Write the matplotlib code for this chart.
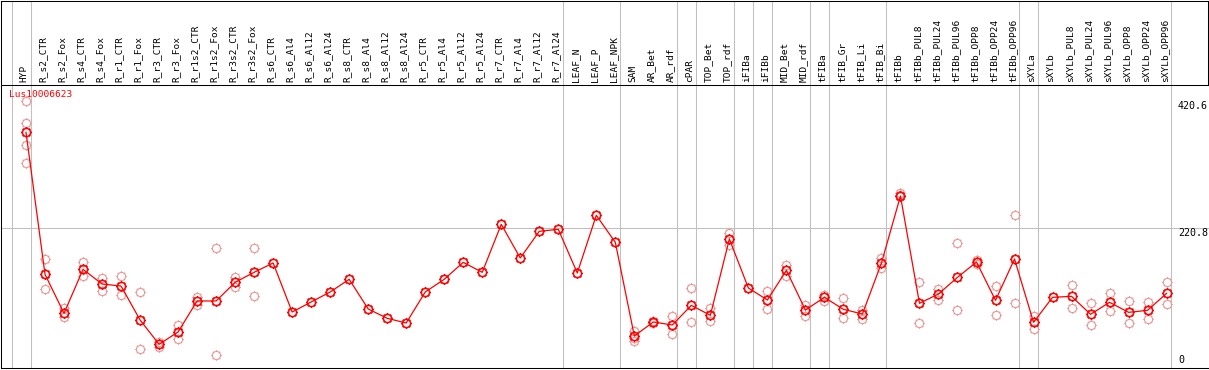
import numpy as np
import matplotlib
matplotlib.use('Agg')
import matplotlib.pyplot as plt
from matplotlib.path import Path

samples = ["HYP", "R_s2_CTR", "R_s2_Fox", "R_s4_CTR", "R_s4_Fox", "R_r1_CTR", "R_r1_Fox",
           "R_r3_CTR", "R_r3_Fox", "R_r1s2_CTR", "R_r1s2_Fox", "R_r3s2_CTR", "R_r3s2_Fox",
           "R_s6_CTR", "R_s6_Al4", "R_s6_Al12", "R_s6_Al24", "R_s8_CTR", "R_s8_Al4",
           "R_s8_Al12", "R_s8_Al24", "R_r5_CTR", "R_r5_Al4", "R_r5_Al12", "R_r5_Al24",
           "R_r7_CTR", "R_r7_Al4", "R_r7_Al12", "R_r7_Al24", "LEAF_N", "LEAF_P", "LEAF_NPK",
           "SAM", "AR_Bet", "AR_rdf", "cPAR", "TOP_Bet", "TOP_rdf", "iFIBa", "iFIBb",
           "MID_Bet", "MID_rdf", "tFIBa", "tFIB_Gr", "tFIB_Li", "tFIB_Bi", "tFIBb",
           "tFIBb_PUL8", "tFIBb_PUL24", "tFIBb_PUL96", "tFIBb_OPP8", "tFIBb_OPP24",
           "tFIBb_OPP96", "sXYLa", "sXYLb", "sXYLb_PUL8", "sXYLb_PUL24", "sXYLb_PUL96",
           "sXYLb_OPP8", "sXYLb_OPP24", "sXYLb_OPP96"]

means = [371, 147.4, 86, 155.3, 132.2, 129, 75.6, 37.3, 56.7, 105.5, 105.5, 134.8, 150.6,
         165.3, 88.1, 103.9, 119.6, 139.6, 92.9, 78.2, 70.8, 119.6, 139.6, 166.3, 150.6,
         226.1, 173.1, 215.1, 218.3, 149.5, 240.3, 197.8,
         50.4, 72.4, 67.7, 98.6, 82.9, 203, 125.9, 107, 153.7, 91.3, 111.2, 92.3, 85, 165.3,
         270.7, 101.8, 116.5, 142.7, 166.8, 106.5, 171.6,
         71.9, 111.2, 112.8, 84.5, 103.4, 87.6, 90.8, 117.5]

replicates = [
    [420.6, 385.6, 350.5, 322], [171, 123.8], [94, 80.8], [166.3, 144.8], [142.2, 120.7],
    [145.3, 114.9], [119.6, 29.9], [41.4, 33.6], [67.7, 45.1], [112.3, 99.2],
    [188.9, 19.9], [143.8, 127], [188.9, 113.3],
    [], [], [], [], [], [], [], [], [], [], [], [], [], [], [], [], [], [], [],
    [58.8, 46.7, 43.0], [73.5, 71.4], [81.3, 53], [125.4, 71.9], [93.9, 73.5],
    [212, 193.6], [], [121.2, 92.3], [162.6, 144.8], [99.2, 82.4], [115.4, 106],
    [109.7, 78.2], [91.3, 77.6], [172.6, 156.9],
    [275, 272], [134.8, 70.3], [124.3, 106.5], [196.2, 90.8], [170, 163.7],
    [128.5, 82.9], [240.3, 101.8],
    [81.8, 61.9], [], [130.1, 93.9], [101.8, 67.2], [117.5, 89.2], [104.9, 70.3],
    [103.4, 77.6], [134.8, 100.2]]

group_ends = [-1, 0, 28, 31, 34, 35, 37, 38, 39, 41, 42, 45, 52, 53, 60]
y_ticks = [420.6, 220.8, 0]
series_name = "Lus10006623"

W, H = 1209, 370
fig = plt.figure(figsize=(W / 100, H / 100), dpi=100)
mono = "DejaVu Sans Mono"
fs = 6.8
grey = "#c0c0c0"
lw = 0.75

# circle with small ticks around it
verts, codes = [], []
circ = Path.circle((0, 0), 1.0)
verts += list(circ.vertices)
codes += list(circ.codes)
for a in np.deg2rad([0, 45, 90, 135, 180, 225, 270, 315]):
    verts += [(np.cos(a), np.sin(a)), (1.3 * np.cos(a), 1.3 * np.sin(a))]
    codes += [Path.MOVETO, Path.LINETO]
sun = Path(verts, codes)

px = 19.01
x0 = (1 - 26) / px
x_idx = np.arange(len(samples))

ax = fig.add_axes([1 / W, 2 / H, 1208 / W, 282 / H])
ax.set_xlim(x0, x0 + 1208 / px)
ax.set_ylim(0, 282 / 0.6354)
for s in ["top", "right"]:
    ax.spines[s].set_visible(False)
for s in ["left", "bottom"]:
    ax.spines[s].set_linewidth(lw)
ax.set_xticks([])
ax.set_yticks([])

for g in group_ends:
    ax.axvline(g + 0.24, color=grey, lw=lw, zorder=0)
ax.axhline(220.8, color=grey, lw=lw, zorder=0)

for i, reps in enumerate(replicates):
    if reps:
        ax.plot([i] * len(reps), reps, linestyle="none", marker=sun, markersize=7.6,
                markerfacecolor="none", markeredgecolor="#e89a9a", markeredgewidth=0.8,
                zorder=2)

ax.plot(x_idx, means, color="red", lw=0.9, marker=sun, markersize=7.6,
        markerfacecolor="none", markeredgecolor="red", markeredgewidth=1.1, zorder=3)

ax.text(0.007, 0.985, series_name, transform=ax.transAxes, color="red", fontsize=fs,
        family=mono, ha="left", va="top")

xr = (1178 - 26) / px
ax.text(xr, y_ticks[0], "%.1f" % y_ticks[0], fontsize=fs + 0.4, family=mono, ha="left",
        va="top")
ax.text(xr, y_ticks[1], "%.1f" % y_ticks[1], fontsize=fs + 0.4, family=mono, ha="left",
        va="top")
ax.text(xr, y_ticks[2] + 4, "%d" % y_ticks[2], fontsize=fs + 0.4, family=mono, ha="left",
        va="bottom")

# header with sample names
hx = fig.add_axes([1 / W, 285 / H, 1207 / W, 84 / H])
hx.set_xlim(x0, x0 + 1207 / px)
hx.set_ylim(0, 1)
hx.set_xticks([])
hx.set_yticks([])
for s in hx.spines.values():
    s.set_linewidth(lw)
for g in group_ends:
    hx.axvline(g + 0.24, color=grey, lw=lw, zorder=0)
for i, name in enumerate(samples):
    hx.text(i - 0.1, 3 / 84, name, rotation=90, ha="center", va="bottom", fontsize=fs,
            family=mono)

fig.savefig("out.png", dpi=100)
